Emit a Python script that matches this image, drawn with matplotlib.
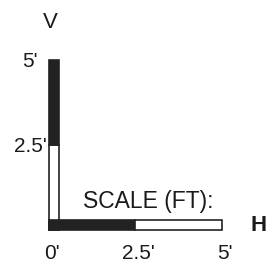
import matplotlib.pyplot as plt
from matplotlib.patches import Rectangle

plt.rcParams['font.family'] = ['Liberation Sans', 'DejaVu Sans']

# scale bar segments (feet)
seg_starts = [0, 2.5]
seg_lengths = [2.5, 2.5]
h_colors = ['#222222', 'white']   # horizontal: black then white
v_colors = ['white', '#222222']   # vertical: white then black
tick_vals = [0, 2.5, 5]
tick_labels = ["0'", "2.5'", "5'"]
title = "SCALE (FT):"

bar_w = 0.3

fig = plt.figure(figsize=(2.74, 2.65), dpi=100)
ax = fig.add_axes([0, 0, 1, 1])
ax.set_xlim(-1.416, 6.503)
ax.set_ylim(-1.03, 6.76)
ax.axis('off')

for s, l, c in zip(seg_starts, seg_lengths, h_colors):
    ax.add_patch(Rectangle((s, 0), l, bar_w, facecolor=c, edgecolor='#222222', lw=1.2))
for s, l, c in zip(seg_starts, seg_lengths, v_colors):
    ax.add_patch(Rectangle((0, s), bar_w, l, facecolor=c, edgecolor='#222222', lw=1.2))
ax.add_patch(Rectangle((0, 0), bar_w, bar_w, facecolor='#222222', edgecolor='#222222', lw=1.2))

fs = 15
for v, lab in zip(tick_vals, tick_labels):
    ax.text(v + 0.08, -0.68, lab, ha='center', va='center', fontsize=fs, color='#1a1a1a')
for v, lab in zip(tick_vals[1:], tick_labels[1:]):
    ax.text(-0.55, v - 0.05, lab, ha='center', va='center', fontsize=fs, color='#1a1a1a')

ax.text(0.05, 6.1, "V", ha='center', va='center', fontsize=16, color='#1a1a1a')
ax.text(6.05, 0.12, "H", ha='center', va='center', fontsize=16, color='#1a1a1a', fontweight='bold')
ax.text(2.86, 0.85, title, ha='center', va='center', fontsize=16.5, color='#1a1a1a')

fig.savefig('out.png', dpi=100)
